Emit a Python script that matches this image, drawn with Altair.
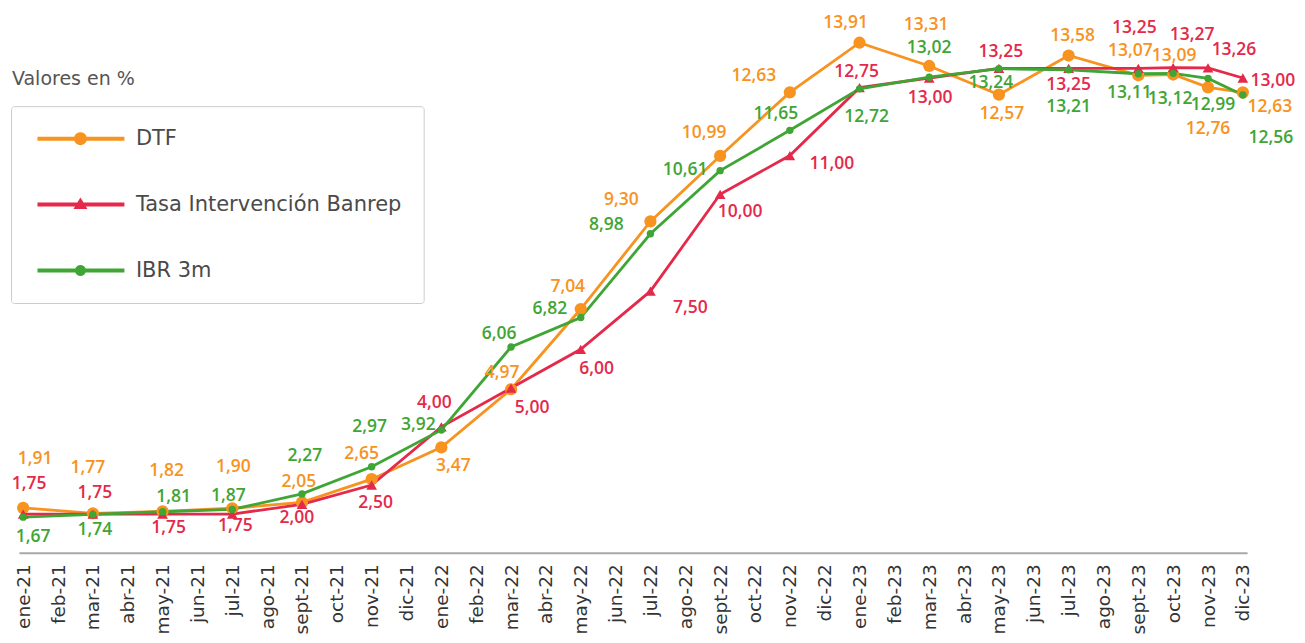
import math
import altair as alt
import pandas as pd

# ---------------- data ----------------
months = ["ene-21", "feb-21", "mar-21", "abr-21", "may-21", "jun-21", "jul-21", "ago-21", "sept-21", "oct-21", "nov-21", "dic-21",
          "ene-22", "feb-22", "mar-22", "abr-22", "may-22", "jun-22", "jul-22", "ago-22", "sept-22", "oct-22", "nov-22", "dic-22",
          "ene-23", "feb-23", "mar-23", "abr-23", "may-23", "jun-23", "jul-23", "ago-23", "sept-23", "oct-23", "nov-23", "dic-23"]
obs_months = ["ene-21", "mar-21", "may-21", "jul-21", "sept-21", "nov-21", "ene-22", "mar-22", "may-22", "jul-22",
              "sept-22", "nov-22", "ene-23", "mar-23", "may-23", "jul-23", "sept-23", "oct-23", "nov-23", "dic-23"]
series_names = ["DTF", "Tasa Intervención Banrep", "IBR 3m"]
dtf = [1.91, 1.77, 1.82, 1.90, 2.05, 2.65, 3.47, 4.97, 7.04, 9.30, 10.99, 12.63, 13.91, 13.31, 12.57, 13.58, 13.07, 13.09, 12.76, 12.63]
banrep = [1.75, 1.75, 1.75, 1.75, 2.00, 2.50, 4.00, 5.00, 6.00, 7.50, 10.00, 11.00, 12.75, 13.00, 13.25, 13.25, 13.25, 13.27, 13.26, 13.00]
ibr = [1.67, 1.74, 1.81, 1.87, 2.27, 2.97, 3.92, 6.06, 6.82, 8.98, 10.61, 11.65, 12.72, 13.02, 13.24, 13.21, 13.11, 13.12, 12.99, 12.56]

# ---------------- label placement (pixel offsets from each point) ----------------
dtf_off = [(12, -49), (-5, -45), (4, -40), (1, -41), (-3, -20), (-10, -25), (12, 19), (-9, -16), (-13, -22), (-29, -21),
           (-16, -23), (-36, -16), (-14, -20), (-3, -41), (3, 19), (4, -20), (-8, -24), (1, -19), (0, 42), (27, 15)]
banrep_off = [(6, -30), (2, -21), (6, 14), (3, 12), (-5, 14), (4, 18), (-7, -24), (21, 20), (16, 20), (40, 17),
              (20, 18), (42, 8), (-3, -16), (1, 20), (2, -16), (0, 17), (-4, -40), (19, -33), (26, -18), (30, 3)]
ibr_off = [(10, 20), (2, 16), (11, -15), (-4, -13), (3, -38), (-2, -40), (-23, -5), (-12, -13), (-31, -9), (-44, -9),
           (-35, -1), (-14, -16), (7, 28), (0, -29), (-8, 14), (0, 37), (-9, 19), (-3, 26), (5, 27), (28, 43)]

# ---------------- styles ----------------
colors = ["#F7931E", "#E5294B", "#3FA535"]
marker_shapes = ["circle", "triangle-up", "circle"]
marker_sizes = [150, 115, 55]


def _poly(pts):
    return "M" + " L".join(f"{x:.3f},{y:.3f}" for x, y in pts) + " Z"


def _legend_symbol(kind, r):
    bar = _poly([(-0.6, -0.2), (8.1, -0.2), (8.1, 0.2), (-0.6, 0.2)])
    cx = 3.7
    if kind == "triangle":
        mk = _poly([(cx, -0.7), (cx + 0.7, 0.45), (cx - 0.7, 0.45)])
    else:
        mk = _poly([(cx + r * math.cos(2 * math.pi * k / 20), r * math.sin(2 * math.pi * k / 20)) for k in range(20)])
    return bar + " " + mk


legend_paths = [_legend_symbol("circle", 0.65), _legend_symbol("triangle", 0), _legend_symbol("circle", 0.55)]

W, H = 1229, 539
X_DOM = [-0.12, 35.12]
Y_DOM = [0.75, 14.645]
px_x = W / (X_DOM[1] - X_DOM[0])
px_y = H / (Y_DOM[1] - Y_DOM[0])

rows = []
for name, vals, offs in zip(series_names, [dtf, banrep, ibr], [dtf_off, banrep_off, ibr_off]):
    for m, v, (dx, dy) in zip(obs_months, vals, offs):
        idx = months.index(m)
        rows.append({
            "series": name, "idx": idx, "month": m, "value": v,
            "label": f"{v:.2f}".replace(".", ","),
            "lx": idx + dx / px_x, "ly": v - dy / px_y,
        })
df = pd.DataFrame(rows)

label_expr = "[" + ",".join(f"'{m}'" for m in months) + "][datum.value]"
x_axis = alt.Axis(values=list(range(len(months))), labelExpr=label_expr, title=None,
                  labelAngle=270, labelAlign="right", labelBaseline="middle",
                  labelPadding=11, labelFontSize=18.5, labelColor="#333333", labelFont="DejaVu Sans",
                  labelOverlap=False, labelFlush=False, labelBound=False,
                  ticks=False, grid=False, domainColor="#a8a8a8", domainWidth=2)
x_scale = alt.Scale(domain=X_DOM, nice=False, zero=False)
y_scale = alt.Scale(domain=Y_DOM, nice=False, zero=False)
x_enc = alt.X("idx:Q", scale=x_scale, axis=x_axis)
y_enc = alt.Y("value:Q", scale=y_scale, axis=None)

base = alt.Chart(df)
layers = []
for name, col in zip(series_names, colors):
    sub = base.transform_filter(alt.datum.series == name)
    layers.append(sub.mark_line(color=col, strokeWidth=2.8).encode(x=x_enc, y=y_enc))
for name, col, shp, sz in zip(series_names, colors, marker_shapes, marker_sizes):
    sub = base.transform_filter(alt.datum.series == name)
    layers.append(sub.mark_point(filled=True, opacity=1, color=col, shape=shp, size=sz).encode(x=x_enc, y=y_enc))
for name, col in zip(series_names, colors):
    sub = base.transform_filter(alt.datum.series == name)
    layers.append(sub.mark_text(color=col, font="Open Sans", fontSize=17.5, fontWeight=600,
                                align="center", baseline="middle").encode(
        x=alt.X("lx:Q", scale=x_scale, axis=x_axis), y=alt.Y("ly:Q", scale=y_scale, axis=None), text="label:N"))

# legend-only layer: its dummy marks sit outside the canvas and are clipped away
legend_df = pd.DataFrame({"series": series_names})
legend_layer = alt.Chart(legend_df).mark_point(filled=True, opacity=1, size=400, clip=True).encode(
    x=alt.value(-2000), y=alt.value(-2000),
    color=alt.Color("series:N", scale=alt.Scale(domain=series_names, range=colors),
                    legend=alt.Legend(title=None, orient="none", legendX=-8, legendY=92,
                                      direction="vertical", padding=22, rowPadding=44,
                                      strokeColor="#cccccc", cornerRadius=3, fillColor="white",
                                      labelFont="DejaVu Sans", labelFontSize=21, labelColor="#4a4a4a",
                                      labelOffset=82, symbolSize=400, symbolStrokeWidth=0,
                                      symbolOpacity=1, labelLimit=400)),
    shape=alt.Shape("series:N", scale=alt.Scale(domain=series_names, range=legend_paths)),
)
layers.append(legend_layer)

chart = alt.layer(*layers).properties(
    width=W, height=H,
    title=alt.TitleParams("Valores en %", anchor="start", frame="group", orient="top",
                          font="DejaVu Sans", fontSize=19, fontWeight="normal", color="#555555",
                          offset=0, dx=-7, dy=75),
    autosize=alt.AutoSizeParams(type="none"),
    padding={"left": 11, "top": 6, "right": 50, "bottom": 90},
).configure_view(stroke=None)

chart.save("out.html", embed_options={"renderer": "svg", "actions": False})
